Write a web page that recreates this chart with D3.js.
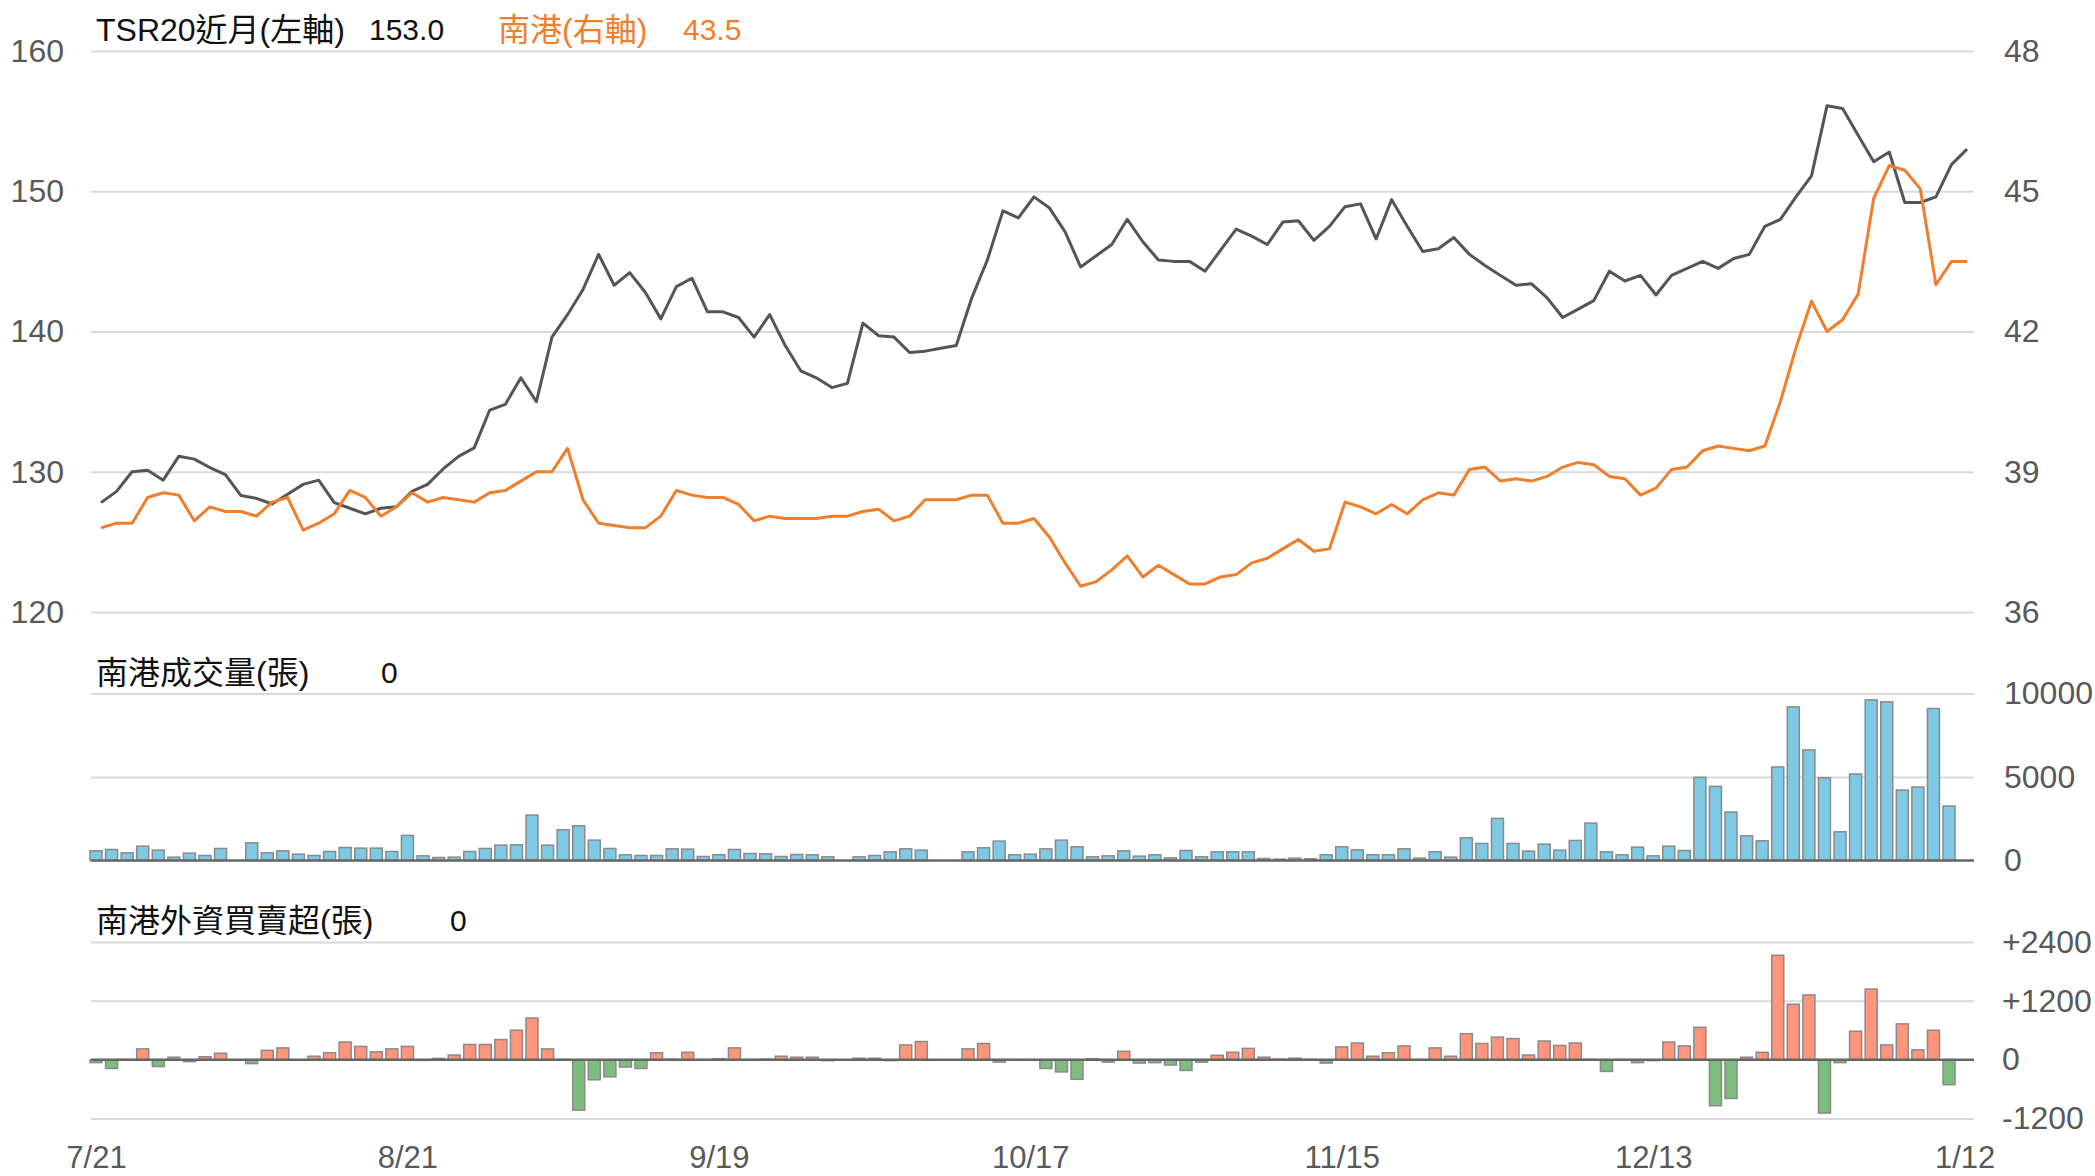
<!DOCTYPE html>
<html><head><meta charset="utf-8">
<script src="https://cdn.jsdelivr.net/npm/d3@7"></script>
<style>
html,body{margin:0;padding:0;background:#fff;}
svg{display:block;}
text{font-family:"Liberation Sans",Arial,"Noto Sans CJK TC",sans-serif;}
</style></head><body>
<svg id="chart" width="2095" height="1176"></svg>
<script>
// ---------------- DATA ----------------
const xTickIdx = [0, 20, 40, 60, 80, 100, 120];
const xTickLabels = ["7/21", "8/21", "9/19", "10/17", "11/15", "12/13", "1/12"];

const seriesNames = ["TSR20近月(左軸)", "南港(右軸)", "南港成交量(張)", "南港外資買賣超(張)"];

const leftTicks = [120, 130, 140, 150, 160];
const rightTicks = [36, 39, 42, 45, 48];
const volTicks = [0, 5000, 10000];
const forTicks = [-1200, 0, 1200, 2400];

const tsr = [127.8,128.6,130.0,130.1,129.4,131.1,130.9,130.3,129.8,128.3,
128.1,127.7,128.4,129.1,129.4,127.8,127.4,127.0,127.4,127.5,
128.6,129.1,130.2,131.1,131.7,134.4,134.8,136.7,135.0,139.6,
141.2,143.0,145.5,143.3,144.2,142.8,140.9,143.2,143.8,141.4,
141.4,141.0,139.6,141.2,139.0,137.2,136.7,136.0,136.3,140.6,
139.7,139.6,138.5,138.6,138.8,139.0,142.4,145.1,148.6,148.1,
149.6,148.8,147.1,144.6,145.4,146.2,148.0,146.4,145.1,145.0,
145.0,144.3,145.8,147.3,146.8,146.2,147.8,147.9,146.5,147.5,
148.9,149.1,146.6,149.4,147.5,145.7,145.9,146.7,145.5,144.7,
144.0,143.3,143.4,142.4,141.0,141.6,142.2,144.3,143.6,144.0,
142.6,144.0,144.5,145.0,144.5,145.2,145.5,147.5,148.0,149.6,
151.1,156.1,155.9,154.0,152.1,152.8,149.2,149.2,149.6,151.9,
153.0];

const nangang = [37.8,37.9,37.9,38.45,38.55,38.5,37.95,38.25,38.15,38.15,
38.05,38.35,38.45,37.75,37.9,38.1,38.6,38.45,38.05,38.25,
38.55,38.35,38.45,38.4,38.35,38.55,38.6,38.8,39.0,39.0,
39.5,38.4,37.9,37.85,37.8,37.8,38.05,38.6,38.5,38.45,
38.45,38.3,37.95,38.05,38.0,38.0,38.0,38.05,38.05,38.15,
38.2,37.95,38.05,38.4,38.4,38.4,38.5,38.5,37.9,37.9,
38.0,37.6,37.05,36.55,36.65,36.9,37.2,36.75,37.0,36.8,
36.6,36.6,36.75,36.8,37.05,37.15,37.35,37.55,37.3,37.35,
38.35,38.25,38.1,38.3,38.1,38.4,38.55,38.5,39.05,39.1,
38.8,38.85,38.8,38.9,39.1,39.2,39.15,38.9,38.85,38.5,
38.65,39.05,39.1,39.45,39.55,39.5,39.45,39.55,40.5,41.65,
42.65,42.0,42.25,42.8,44.85,45.55,45.45,45.05,43.0,43.5,
43.5];

const volume = [580,660,460,860,620,200,440,300,720,0,
1060,460,580,380,300,540,780,740,740,540,
1500,280,180,200,540,720,920,940,2720,920,
1840,2080,1220,720,340,300,300,700,680,240,
340,660,420,400,240,360,340,220,0,220,
300,520,700,620,0,0,520,760,1160,340,
380,700,1220,820,220,280,580,260,340,160,
600,220,520,520,520,120,80,140,100,340,
820,640,340,340,700,140,520,200,1360,1020,
2520,1020,560,980,620,1200,2240,520,340,800,
280,860,600,4980,4440,2900,1480,1180,5600,9200,
6620,4960,1720,5180,9620,9500,4220,4400,9100,3260,
0];

const foreign = [-60,-180,5,220,-140,50,-40,60,130,0,
-80,190,240,0,70,140,360,270,160,220,
270,-15,25,95,310,310,410,600,850,220,
5,-1030,-410,-350,-150,-180,140,10,150,-10,
20,240,-10,10,70,50,50,-20,0,30,
30,-20,300,370,0,0,220,330,-50,-5,
-5,-180,-250,-400,20,-50,170,-70,-60,-110,
-220,-50,90,150,230,50,10,30,5,-70,
260,340,70,140,280,-10,240,70,530,330,
460,430,95,380,290,340,5,-240,-10,-60,
-20,360,280,660,-940,-790,50,150,2130,1130,
1320,-1090,-60,580,1440,300,730,200,600,-510,
0];

// ---------------- LAYOUT ----------------
const svg = d3.select("#chart");
const gridX0 = 91, gridX1 = 1974;
const FS_AXIS = 32, FS_X = 31, FS_CJK = 32, FS_NUM = 30;
const labelColor = "#595959";
const gridColor = "#dadada";
const grayLine = "#555555";
const orange = "#f07e2c";

const n = tsr.length;
const xLine = d3.scaleLinear().domain([0, n - 1]).range([101, 1967]);
const xBar = d3.scaleLinear().domain([0, n - 1]).range([96, 1964.6]);

const yL = d3.scaleLinear().domain([120, 160]).range([612, 51]);
const yR = d3.scaleLinear().domain([36, 48]).range([612, 51]);
const yV = d3.scaleLinear().domain([0, 10000]).range([860.5, 693.5]);
const yF = d3.scaleLinear().domain([-1200, 2400]).range([1118.5, 942]);

function styleAxisText(g, anchor, fs) {
  g.select(".domain").remove();
  g.selectAll("text")
    .attr("font-size", fs)
    .attr("font-family", '"Liberation Sans",Arial,sans-serif')
    .attr("fill", labelColor);
  if (anchor) g.selectAll("text").attr("text-anchor", anchor);
}
function grid(scale, values, color, width) {
  const g = svg.append("g").attr("transform", `translate(${gridX0},0)`)
    .call(d3.axisLeft(scale).tickValues(values).tickSize(-(gridX1 - gridX0)).tickFormat(""));
  g.select(".domain").remove();
  g.selectAll("line").attr("stroke", color).attr("stroke-width", width);
  return g;
}

// ---- gridlines
grid(yL, leftTicks, gridColor, 2);
grid(yV, [5000, 10000], gridColor, 2);
grid(yF, [-1200, 1200, 2400], gridColor, 2);

// ---- top panel axes
svg.append("g").attr("transform", "translate(64,0)")
  .call(d3.axisLeft(yL).tickValues(leftTicks).tickSize(0).tickPadding(0))
  .call(g => styleAxisText(g, "end", FS_AXIS));
svg.append("g").attr("transform", "translate(2004,0)")
  .call(d3.axisRight(yR).tickValues(rightTicks).tickSize(0).tickPadding(0).tickFormat(d3.format("d")))
  .call(g => styleAxisText(g, "start", FS_AXIS));

// ---- lines
const lineL = d3.line().x((d, i) => xLine(i)).y(d => yL(d));
const lineR = d3.line().x((d, i) => xLine(i)).y(d => yR(d));
svg.append("path").datum(tsr).attr("d", lineL)
  .attr("fill", "none").attr("stroke", grayLine).attr("stroke-width", 3)
  .attr("stroke-linejoin", "round");
svg.append("path").datum(nangang).attr("d", lineR)
  .attr("fill", "none").attr("stroke", orange).attr("stroke-width", 3)
  .attr("stroke-linejoin", "round");

// ---- volume bars
const bw = 12;
svg.append("g").selectAll("rect")
  .data(volume.map((v, i) => ({ v, i })).filter(d => d.v !== 0))
  .join("rect")
  .attr("x", d => xBar(d.i) - bw / 2)
  .attr("y", d => yV(d.v))
  .attr("width", bw)
  .attr("height", d => yV(0) - yV(d.v))
  .attr("fill", "#7ec9e4")
  .attr("stroke", "#8a8a8a")
  .attr("stroke-width", 1.5);
svg.append("line").attr("x1", gridX0).attr("x2", gridX1)
  .attr("y1", yV(0)).attr("y2", yV(0)).attr("stroke", "#666").attr("stroke-width", 2.5);
svg.append("g").attr("transform", "translate(2004,0)")
  .call(d3.axisRight(yV).tickValues(volTicks).tickSize(0).tickPadding(0).tickFormat(d3.format("d")))
  .call(g => styleAxisText(g, "start", FS_AXIS));

// ---- foreign bars
svg.append("g").selectAll("rect")
  .data(foreign.map((v, i) => ({ v, i })).filter(d => d.v !== 0))
  .join("rect")
  .attr("x", d => xBar(d.i) - bw / 2)
  .attr("y", d => d.v > 0 ? yF(d.v) : yF(0))
  .attr("width", bw)
  .attr("height", d => Math.abs(yF(0) - yF(d.v)))
  .attr("fill", d => d.v > 0 ? "#ff957b" : "#7dbd7d")
  .attr("stroke", "#8a8a8a")
  .attr("stroke-width", 1.5);
svg.append("line").attr("x1", gridX0).attr("x2", gridX1)
  .attr("y1", yF(0)).attr("y2", yF(0)).attr("stroke", "#666").attr("stroke-width", 2.5);
svg.append("g").attr("transform", "translate(2002,0)")
  .call(d3.axisRight(yF).tickValues(forTicks).tickSize(0).tickPadding(0)
    .tickFormat(d => d > 0 ? "+" + d : String(d)))
  .call(g => styleAxisText(g, "start", FS_AXIS));

// ---- x axis
svg.append("g").attr("transform", "translate(0,1146)")
  .call(d3.axisBottom(xBar).tickValues(xTickIdx).tickSize(0).tickPadding(0)
    .tickFormat((d, k) => xTickLabels[k]))
  .call(g => styleAxisText(g, "middle", FS_X));

// ---- legends
const fmt1 = d3.format(".1f");
function txt(x, cy, s, color, fs) {
  svg.append("text").attr("x", x).attr("y", cy + 0.36 * fs).attr("font-size", fs)
    .attr("fill", color).text(s);
}
txt(96, 29.5, seriesNames[0], "#111", FS_CJK);
txt(369, 29.5, fmt1(tsr[n - 1]), "#111", FS_NUM);
txt(498, 29.5, seriesNames[1], orange, FS_CJK);
txt(683, 29.5, fmt1(nangang[n - 1]), orange, FS_NUM);
txt(96, 672, seriesNames[2], "#111", FS_CJK);
txt(381, 672, String(volume[n - 1]), "#111", FS_NUM);
txt(96, 920.5, seriesNames[3], "#111", FS_CJK);
txt(450, 920.5, String(foreign[n - 1]), "#111", FS_NUM);
</script>
</body></html>
